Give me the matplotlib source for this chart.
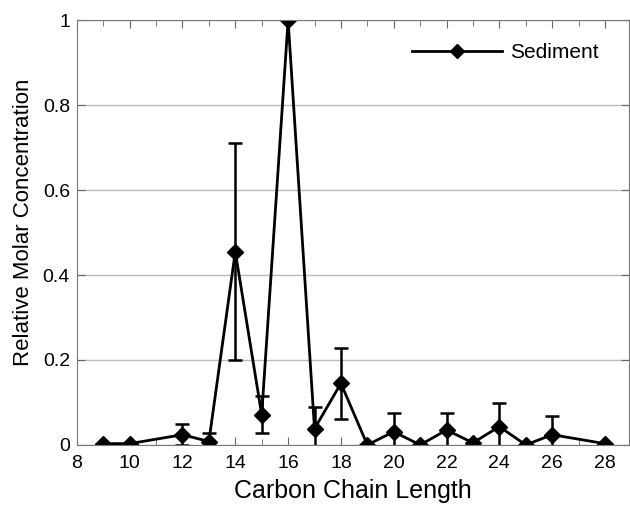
import matplotlib
matplotlib.use("Agg")
from matplotlib import pyplot as plt
from matplotlib.lines import Line2D
from matplotlib.ticker import MultipleLocator

# chain length vs relative molar concentration (sediment)
chain_length = [9, 10, 12, 13, 14, 15, 16, 17, 18, 19, 20, 21, 22, 23, 24, 25, 26, 28]
concentration = [0.003, 0.003, 0.024, 0.008, 0.455, 0.071, 1.0, 0.038, 0.145, 0.0,
                 0.031, 0.0, 0.035, 0.005, 0.043, 0.0, 0.024, 0.003]
error = [0.0, 0.0, 0.025, 0.02, 0.255, 0.043, 0.0, 0.052, 0.083, 0.0,
         0.044, 0.0, 0.041, 0.0, 0.055, 0.0, 0.043, 0.0]
y_ticks = [0, 0.2, 0.4, 0.6, 0.8, 1]
y_tick_labels = ["0", "0.2", "0.4", "0.6", "0.8", "1"]
x_ticks = [8, 10, 12, 14, 16, 18, 20, 22, 24, 26, 28]

plt.rcParams['font.family'] = ['Liberation Sans', 'DejaVu Sans']

fig = plt.figure(figsize=(6.3, 5.05), dpi=100)
ax = fig.add_axes([0.122, 0.119, 0.876, 0.841])

ax.errorbar(chain_length, concentration, yerr=error, color='black', lw=2,
            marker='D', markersize=8, capsize=5, capthick=1.8, elinewidth=1.8)

ax.set_xlim(8, 28.9)
ax.set_ylim(0, 1)
ax.set_xticks(x_ticks)
ax.set_yticks(y_ticks)
ax.set_yticklabels(y_tick_labels)
ax.xaxis.set_minor_locator(MultipleLocator(1))
ax.tick_params(which='both', direction='in', top=True, right=True,
               labelsize=14, color='#666666')
ax.tick_params(which='major', length=6)
ax.tick_params(which='minor', length=4)
ax.tick_params(axis='x', pad=7)
ax.tick_params(axis='y', pad=5)
ax.yaxis.grid(True, color='#bbbbbb', lw=1)
ax.set_axisbelow(True)
for s in ax.spines.values():
    s.set_color('#777777')

ax.set_xlabel("Carbon Chain Length", fontsize=18, labelpad=5)
ax.set_ylabel("Relative Molar Concentration", fontsize=16)
ax.yaxis.set_label_coords(-0.078, 0.524)

handle = Line2D([], [], color='black', lw=2, marker='D', markersize=7)
ax.legend(handles=[handle], labels=['Sediment'], loc='upper right', frameon=False,
          fontsize=15, handlelength=4.3, handletextpad=0.4,
          bbox_to_anchor=(0.98, 0.99))

fig.savefig("out.png", dpi=100)
